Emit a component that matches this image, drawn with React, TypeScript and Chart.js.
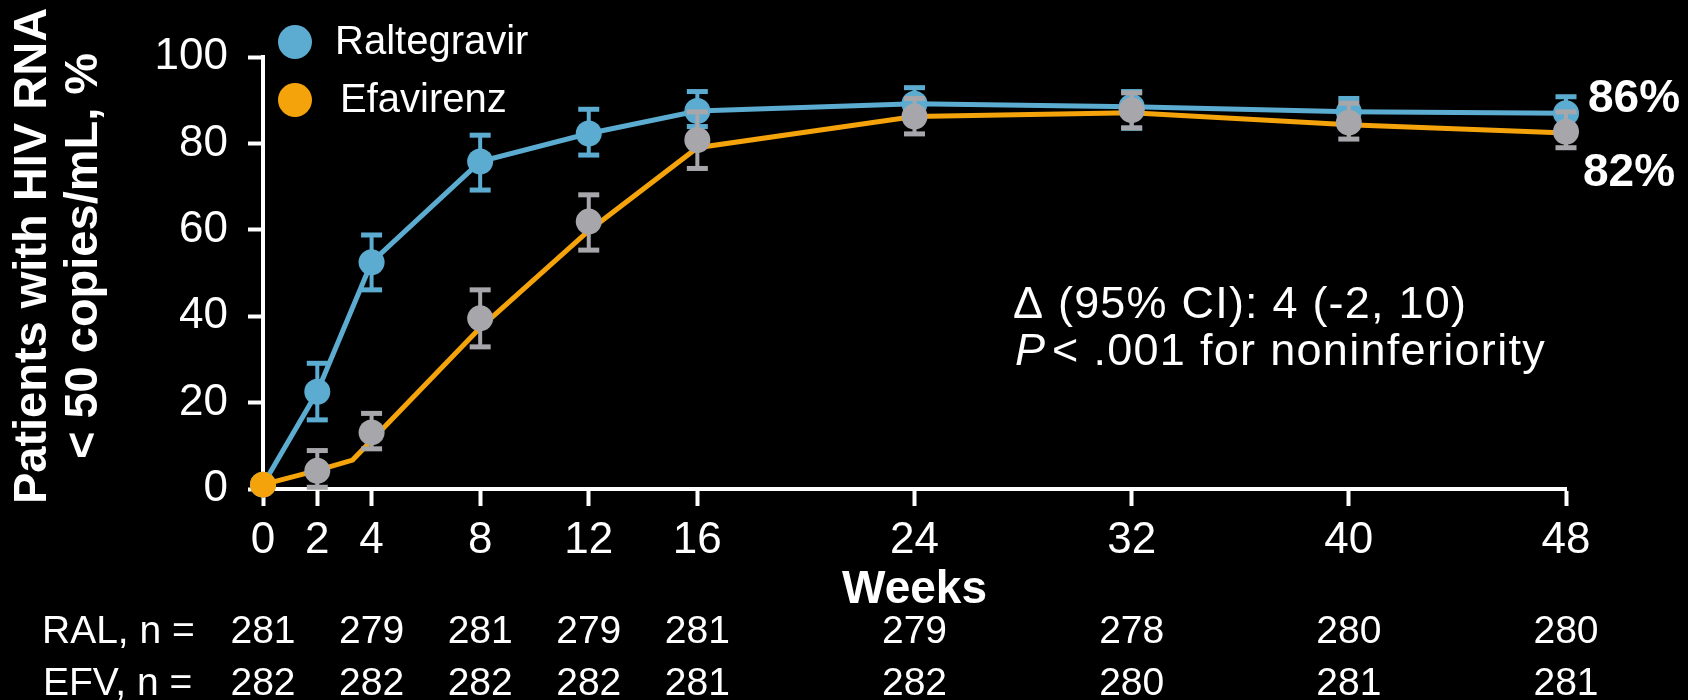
import React, { useEffect, useRef } from 'react';
import { Chart, registerables } from 'chart.js';

Chart.register(...registerables);

// ---------- data ----------
const xTickWeeks = [0, 2, 4, 8, 12, 16, 24, 32, 40, 48];
const weeks = [0, 2, 4, 8, 12, 16, 24, 32, 40, 48];

const ralValues = [1, 22.5, 52.5, 75.8, 82.3, 87.5, 89.2, 88.5, 87.3, 87.0];
const ralUpper = [null, 29.1, 58.8, 81.9, 87.9, 92.0, 92.9, 92.0, 90.4, 90.8];
const ralLower = [null, 16.0, 46.1, 69.2, 77.3, 83.9, 85.3, 83.5, 83.8, 83.2];

const efvValues = [1, 4.2, 13.1, 39.5, 61.9, 80.8, 86.2, 87.7, 84.8, 82.7];
const efvUpper = [null, 8.9, 17.5, 46.1, 68.1, 87.3, 90.4, 91.7, 89.3, 87.3];
const efvLower = [null, 0.4, 9.3, 32.9, 55.3, 74.2, 82.2, 83.6, 81.0, 79.0];

const efvLineWeeks = [0, 2, 3.3, 8, 12, 16, 24, 32, 40, 48];
const efvLineValues = [1, 4.3, 6.7, 37.3, 59.8, 79, 86.2, 87.1, 84.3, 82.4];

const nWeeks = [0, 4, 8, 12, 16, 24, 32, 40, 48];
const ralN = [281, 279, 281, 279, 281, 279, 278, 280, 280];
const efvN = [282, 282, 282, 282, 281, 282, 280, 281, 281];

const endLabels = ['86%', '82%'];
const seriesNames = ['Raltegravir', 'Efavirenz'];

// ---------- styles ----------
const FONT = '"Liberation Sans", Arial, Helvetica, sans-serif';
const BLUE = '#5BACD0';
const ORANGE = '#F5A30B';
const GRAY = '#A7A7AB';
const WHITE = '#FFFFFF';

const errorBarPlugin = {
  id: 'errorBars',
  beforeDatasetDraw(chart: any, args: any) {
    const ds: any = chart.data.datasets[args.index];
    const eb = ds.errorBars;
    if (!eb) return;
    const ctx = chart.ctx;
    const xs = chart.scales.x;
    const ys = chart.scales.y;
    ctx.save();
    ctx.strokeStyle = eb.color;
    ctx.fillStyle = eb.color;
    ds.data.forEach((p: any, i: number) => {
      const lo = eb.lower[i];
      const hi = eb.upper[i];
      if (lo == null || hi == null) return;
      const x = xs.getPixelForValue(p.x);
      const yl = ys.getPixelForValue(lo);
      const yh = ys.getPixelForValue(hi);
      ctx.lineWidth = 4;
      ctx.beginPath();
      ctx.moveTo(x, yl);
      ctx.lineTo(x, yh);
      ctx.stroke();
      ctx.fillRect(x - 10.5, yh - 2.5, 21, 5);
      ctx.fillRect(x - 10.5, yl - 2.5, 21, 5);
    });
    ctx.restore();
  },
};

function setSpacing(ctx: any, v: string) {
  try {
    ctx.letterSpacing = v;
  } catch (e) {
    /* ignore */
  }
}

const textPlugin = {
  id: 'customText',
  afterDraw(chart: any) {
    const ctx = chart.ctx;
    const xs = chart.scales.x;
    const area = chart.chartArea;
    ctx.save();
    ctx.fillStyle = WHITE;

    // y axis title (two lines, rotated)
    ctx.font = `bold 47px ${FONT}`;
    ctx.textAlign = 'center';
    ctx.textBaseline = 'alphabetic';
    ctx.save();
    ctx.translate(46, 256);
    ctx.rotate(-Math.PI / 2);
    ctx.fillText('Patients with HIV RNA', 0, 0);
    ctx.restore();
    ctx.save();
    ctx.translate(97, 256);
    ctx.rotate(-Math.PI / 2);
    ctx.fillText('< 50 copies/mL, %', 0, 0);
    ctx.restore();

    // x axis title
    ctx.font = `bold 46px ${FONT}`;
    ctx.textAlign = 'center';
    ctx.fillText('Weeks', (area.left + area.right) / 2, 603);

    // end labels
    ctx.textAlign = 'left';
    ctx.fillText(endLabels[0], 1588, 112);
    ctx.fillText(endLabels[1], 1583, 186);

    // legend
    const legendColors = [BLUE, ORANGE];
    const legendY = [42, 100];
    const legendTx = [335, 340];
    ctx.font = `40px ${FONT}`;
    ctx.textBaseline = 'middle';
    seriesNames.forEach((name, i) => {
      ctx.fillStyle = legendColors[i];
      ctx.beginPath();
      ctx.arc(295, legendY[i], 17, 0, Math.PI * 2);
      ctx.fill();
      ctx.fillStyle = WHITE;
      ctx.fillText(name, legendTx[i], legendY[i] + 1);
    });

    // annotation
    ctx.textBaseline = 'alphabetic';
    ctx.font = `45px ${FONT}`;
    setSpacing(ctx, '1.2px');
    ctx.fillText('\u0394 (95% CI): 4 (-2, 10)', 1013, 318);
    setSpacing(ctx, '0px');
    ctx.font = `italic 45px ${FONT}`;
    ctx.fillText('P', 1015, 365);
    const pw = ctx.measureText('P').width;
    ctx.font = `45px ${FONT}`;
    setSpacing(ctx, '1.3px');
    ctx.fillText('< .001 for noninferiority', 1015 + pw + 7, 365);
    setSpacing(ctx, '0px');

    // n table
    ctx.font = `39px ${FONT}`;
    ctx.textAlign = 'left';
    ctx.fillText('RAL, n =', 42, 643);
    ctx.fillText('EFV, n =', 43, 695);
    ctx.textAlign = 'center';
    nWeeks.forEach((w, i) => {
      const x = xs.getPixelForValue(w);
      ctx.fillText(String(ralN[i]), x, 643);
      ctx.fillText(String(efvN[i]), x, 695);
    });

    ctx.restore();
  },
};

export default function App() {
  const canvasRef = useRef<HTMLCanvasElement | null>(null);

  useEffect(() => {
    document.body.style.margin = '0';
    document.body.style.background = '#000';
    const canvas = canvasRef.current;
    if (!canvas) return;

    const ralData = weeks.map((w, i) => ({ x: w, y: ralValues[i] }));
    const efvPointData = weeks.map((w, i) => ({ x: w, y: efvValues[i] }));
    const efvLineData = efvLineWeeks.map((w, i) => ({ x: w, y: efvLineValues[i] }));

    const chart = new Chart(canvas, {
      type: 'line',
      data: {
        datasets: [
          {
            label: seriesNames[0],
            data: ralData,
            borderColor: BLUE,
            backgroundColor: BLUE,
            borderWidth: 5,
            pointRadius: 13,
            pointBorderWidth: 0,
            pointBackgroundColor: BLUE,
            tension: 0,
            clip: false,
            order: 3,
            errorBars: { lower: ralLower, upper: ralUpper, color: BLUE },
          } as any,
          {
            label: seriesNames[1],
            data: efvLineData,
            borderColor: ORANGE,
            backgroundColor: ORANGE,
            borderWidth: 5,
            pointRadius: efvLineWeeks.map((w) => (w === 0 ? 13 : 0)),
            pointBorderWidth: 0,
            pointBackgroundColor: ORANGE,
            tension: 0,
            clip: false,
            order: 2,
          } as any,
          {
            label: seriesNames[1] + ' points',
            data: efvPointData,
            showLine: false,
            borderColor: GRAY,
            backgroundColor: GRAY,
            pointRadius: weeks.map((w) => (w === 0 ? 0 : 13)),
            pointBorderWidth: 0,
            pointBackgroundColor: GRAY,
            clip: false,
            order: 1,
            errorBars: { lower: efvLower, upper: efvUpper, color: GRAY },
          } as any,
        ],
      },
      options: {
        animation: false,
        responsive: false,
        maintainAspectRatio: false,
        events: [],
        layout: { padding: { left: 0, right: 122, top: 57, bottom: 0 } },
        plugins: {
          legend: { display: false },
          tooltip: { enabled: false },
        },
        scales: {
          x: {
            type: 'linear',
            min: 0,
            max: 48,
            afterBuildTicks: (s: any) => {
              s.ticks = xTickWeeks.map((v) => ({ value: v }));
            },
            afterFit: (s: any) => {
              s.height = 211;
            },
            grid: {
              display: true,
              drawOnChartArea: false,
              drawTicks: true,
              tickLength: 17,
              tickWidth: 4,
              tickColor: WHITE,
              color: WHITE,
            },
            border: { display: true, color: WHITE, width: 4 },
            ticks: {
              color: WHITE,
              font: { family: FONT, size: 44 },
              padding: 8,
              maxRotation: 0,
              autoSkip: false,
            },
          },
          y: {
            type: 'linear',
            min: 0,
            max: 100,
            afterFit: (s: any) => {
              s.width = 263;
            },
            grid: {
              display: true,
              drawOnChartArea: false,
              drawTicks: true,
              tickLength: 15,
              tickWidth: 4,
              tickColor: WHITE,
              color: WHITE,
            },
            border: { display: true, color: WHITE, width: 4 },
            ticks: {
              stepSize: 20,
              color: WHITE,
              font: { family: FONT, size: 44 },
              padding: 20,
            },
          },
        },
      },
      plugins: [errorBarPlugin, textPlugin],
    } as any);

    return () => chart.destroy();
  }, []);

  return (
    <div style={{ width: 1688, height: 700, background: '#000' }}>
      <canvas ref={canvasRef} width={1688} height={700} style={{ display: 'block', width: 1688, height: 700 }} />
    </div>
  );
}
